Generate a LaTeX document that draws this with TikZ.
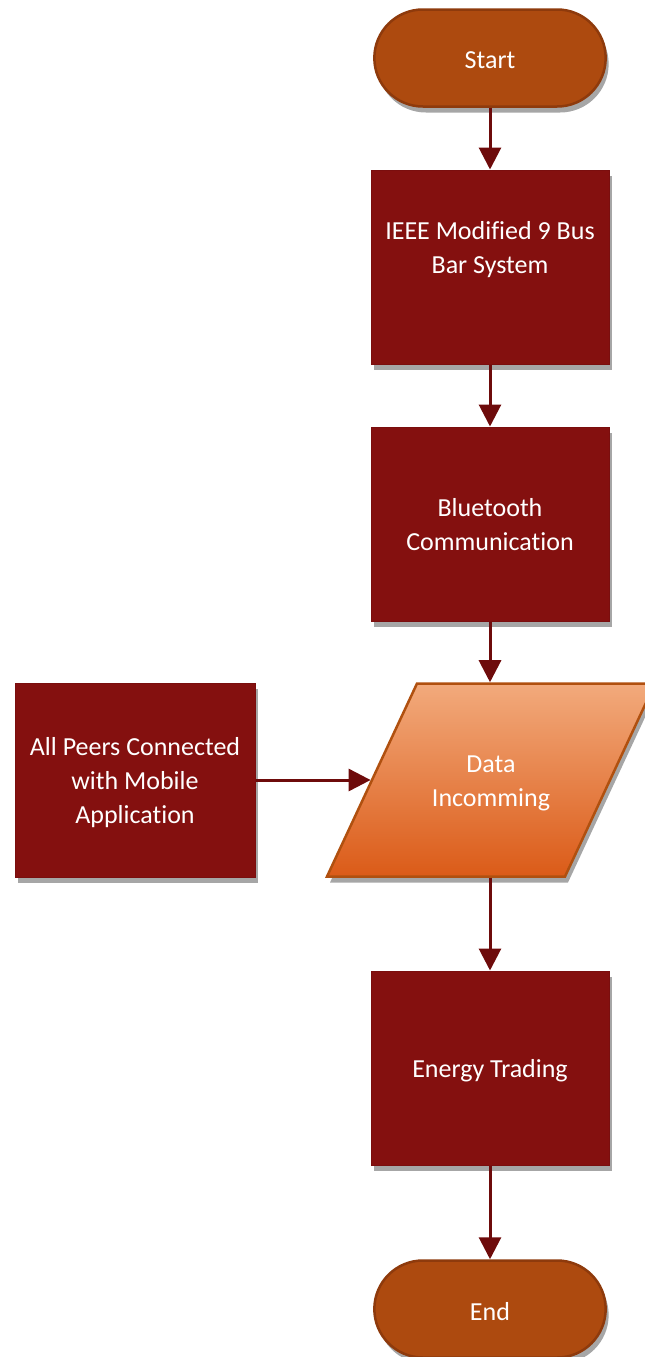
\documentclass[tikz,border=0pt]{standalone}
\usepackage{fontspec}
\setmainfont[Ligatures={NoCommon}]{Carlito}
\usetikzlibrary{shapes.geometric,shapes.misc,shadows,arrows.meta}
\definecolor{termfill}{HTML}{AD4A0F}
\definecolor{termline}{HTML}{8E3A0C}
\definecolor{boxfill}{HTML}{84100F}
\definecolor{boxline}{HTML}{7A0E0E}
\definecolor{paratop}{HTML}{F2AA7C}
\definecolor{parabot}{HTML}{DB5B18}
\definecolor{paraline}{HTML}{B0500F}
\definecolor{arrowcol}{HTML}{6E0B0B}
\tikzset{
  shade/.style={drop shadow={shadow xshift=3pt,shadow yshift=-6pt,opacity=0.35,fill=black}},
  labtext/.style={text=white,font=\fontsize{26}{34}\selectfont,align=center,inner sep=0pt},
  txt/.style 2 args={label={[labtext,yshift=#2]center:{#1}}},
  term/.style={shade,rounded rectangle,fill=termfill,draw=termline,line width=2.5pt,minimum width=238pt,minimum height=97pt},
  stepbox/.style={shade,rectangle,fill=boxfill,draw=boxline,line width=1pt,minimum width=238pt,minimum height=194pt},
  para/.style={shade,trapezium,trapezium left angle=65,trapezium right angle=115,top color=paratop,bottom color=parabot,draw=paraline,line width=2.5pt,inner xsep=74pt,inner ysep=96.5pt,minimum size=0pt},
  flow/.style={draw=arrowcol,line width=3pt,-{Triangle[length=22pt,width=22pt]}}
}
\begin{document}
\begin{tikzpicture}[x=1pt,y=-1pt]
\useasboundingbox (0,0) rectangle (645,1357);
\node[term,txt={Start}{-2pt}] (start) at (490,58) {};
\node[stepbox,txt={IEEE Modified 9 Bus\\Bar System}{17pt}] (ieee) at (490,267) {};
\node[stepbox,txt={Bluetooth\\Communication}{-1pt}] (bt) at (490,524) {};
\node[para,txt={Data\\Incomming}{-3pt}] (data) at (491,780) {};
\node[stepbox,minimum width=240pt,txt={All Peers Connected\\with Mobile\\Application}{-3pt}] (peers) at (135,780) {};
\node[stepbox,txt={Energy Trading}{-3pt}] (et) at (490,1068) {};
\node[term,txt={End}{-3pt}] (end) at (490,1309) {};
\draw[flow] (start) -- (ieee);
\draw[flow] (ieee) -- (bt);
\draw[flow] (bt) -- (bt|-data.north);
\draw[flow] (peers) -- (data);
\draw[flow] (bt|-data.south) -- (et);
\draw[flow] (et) -- (end);
\end{tikzpicture}
\end{document}
